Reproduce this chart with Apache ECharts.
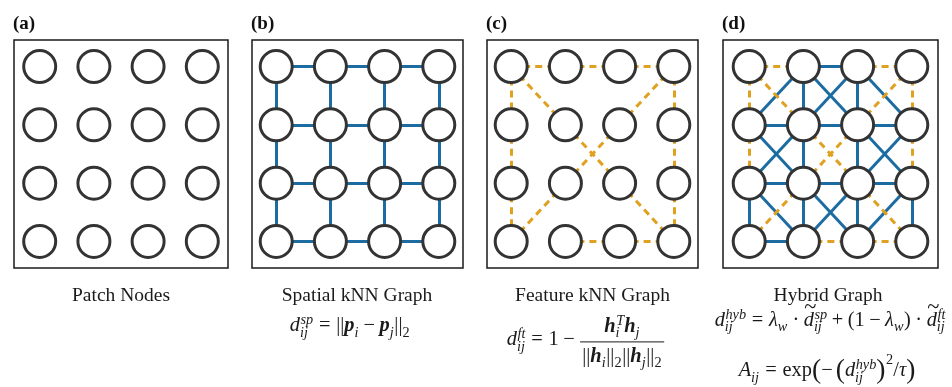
<!DOCTYPE html>
<html><head><meta charset="utf-8">
<script src="https://cdn.jsdelivr.net/npm/echarts@6/dist/echarts.min.js"></script>
<style>html,body{margin:0;padding:0;background:#fff}#chart{width:952px;height:387px}</style>
</head><body><div id="chart"></div>
<script>
// ---------------- data ----------------
const gridRows = [0, 1, 2, 3];
const gridCols = [0, 1, 2, 3];
const panelLabels = ['(a)', '(b)', '(c)', '(d)'];
const panelTitles = ['Patch Nodes', 'Spatial kNN Graph', 'Feature kNN Graph', 'Hybrid Graph'];
// edges: [row1, col1, row2, col2]
const spatialEdges = [
  [0,0,0,1],[0,1,0,2],[0,2,0,3],[1,0,1,1],[1,1,1,2],[1,2,1,3],
  [2,0,2,1],[2,1,2,2],[2,2,2,3],[3,0,3,1],[3,1,3,2],[3,2,3,3],
  [0,0,1,0],[1,0,2,0],[2,0,3,0],[0,1,1,1],[1,1,2,1],[2,1,3,1],
  [0,2,1,2],[1,2,2,2],[2,2,3,2],[0,3,1,3],[1,3,2,3],[2,3,3,3]
];
const featureEdges = [
  [0,0,0,1],[0,1,0,2],[0,2,0,3],
  [0,0,1,0],[1,0,2,0],[2,0,3,0],
  [0,3,1,3],[1,3,2,3],[2,3,3,3],
  [3,1,3,2],[3,2,3,3],
  [0,0,1,1],[1,1,2,2],[2,2,3,3],
  [0,3,1,2],[1,2,2,1],[2,1,3,0]
];
const hybridSpatialEdges = [
  [0,1,0,2],[1,0,1,1],[1,1,1,2],[1,2,1,3],[2,0,2,1],[2,1,2,2],[2,2,2,3],[3,0,3,1],
  [0,1,1,1],[0,2,1,2],[1,1,2,1],[1,2,2,2],[2,0,3,0],[2,1,3,1],[2,2,3,2],[2,3,3,3],
  [0,1,1,0],[0,1,1,2],[0,2,1,1],[0,2,1,3],[1,0,2,1],[1,1,2,0],[1,2,2,3],[1,3,2,2],
  [2,0,3,1],[2,1,3,2],[2,2,3,1],[2,3,3,2]
];
const hybridFeatureEdges = [
  [0,0,0,1],[0,2,0,3],[0,0,1,0],[1,0,2,0],[0,3,1,3],[1,3,2,3],[3,1,3,2],[3,2,3,3],
  [0,0,1,1],[1,1,2,2],[2,2,3,3],[0,3,1,2],[1,2,2,1],[2,1,3,0]
];
const panelSpatial = [[], spatialEdges, [], hybridSpatialEdges];
const panelFeature = [[], [], featureEdges, hybridFeatureEdges];

// ---------------- layout / style ----------------
const BLUE = '#1c6ca1', ORANGE = '#e0a020', NODE = '#333333';
const panels = [{left:14,width:214},{left:252,width:211},{left:487,width:211},{left:723,width:215}];
const TOP = 40, HEIGHT = 228, SPX = 54.2, SPY = 58.3;
const FF = '"Liberation Serif", "DejaVu Serif", serif';

const chart = echarts.init(document.getElementById('chart'), null, {renderer: 'canvas'});

const grids = [], xAxes = [], yAxes = [], series = [];
panels.forEach((p, i) => {
  grids.push({left: p.left, top: TOP, width: p.width, height: HEIGHT, show: true,
    borderColor: '#1a1a1a', borderWidth: 1.5, backgroundColor: 'transparent'});
  const hx = p.width / 2 / SPX, hy = HEIGHT / 2 / SPY;
  xAxes.push({gridIndex: i, type: 'value', min: 1.5 - hx, max: 1.5 + hx, show: false});
  yAxes.push({gridIndex: i, type: 'value', inverse: true, min: 1.5 - hy, max: 1.5 + hy, show: false});
  const toLines = edges => edges.map(e => ({coords: [[e[1], e[0]], [e[3], e[2]]]}));
  if (panelSpatial[i].length) series.push({
    type: 'lines', coordinateSystem: 'cartesian2d', xAxisIndex: i, yAxisIndex: i, z: 2, silent: true,
    data: toLines(panelSpatial[i]), lineStyle: {color: BLUE, width: 3, opacity: 1, type: 'solid'}
  });
  if (panelFeature[i].length) series.push({
    type: 'lines', coordinateSystem: 'cartesian2d', xAxisIndex: i, yAxisIndex: i, z: 3, silent: true,
    data: toLines(panelFeature[i]), lineStyle: {color: ORANGE, width: 3, opacity: 1, type: [7, 5]}
  });
  series.push({
    type: 'scatter', xAxisIndex: i, yAxisIndex: i, z: 5, silent: true, symbol: 'circle', symbolSize: 32,
    itemStyle: {color: '#fff', borderColor: NODE, borderWidth: 3, opacity: 1},
    data: gridRows.flatMap(r => gridCols.map(c => [c, r]))
  });
});

// ---------------- mini math text layout ----------------
const mctx = document.createElement('canvas').getContext('2d');
function fstr(st, s) { return (st.includes('i') ? 'italic ' : '') + (st.includes('b') ? 'bold ' : '') + s + 'px ' + FF; }
function mw(t, st, s) { mctx.font = fstr(st, s); return mctx.measureText(t).width; }
const SUPS = 0.7, SUPDY = -0.38, SUBDY = 0.23;

function width(tokens, S) {
  let w = 0;
  tokens.forEach(tk => {
    const k = tk[0];
    if (k === 't') w += mw(tk[1], tk[2], S * (tk[3] || 1));
    else if (k === 'sp') w += tk[1] * S;
    else if (k === 'ss') w += Math.max(mw(tk[1], tk[3] || 'i', S * SUPS), mw(tk[2], tk[4] || tk[3] || 'i', S * SUPS)) + 0.03 * S;
    else if (k === 'dt') w += mw('d', 'i', S);
    else if (k === 'frac') w += Math.max(width(tk[1], S), width(tk[2], S)) + 0.3 * S;
  });
  return w;
}
function txt(out, t, st, s, x, B) {
  out.push({type: 'text', x: x, y: B - 0.3375 * s, silent: true,
    style: {text: t, fontSize: s, fontFamily: FF, fontStyle: st.includes('i') ? 'italic' : 'normal',
      fontWeight: st.includes('b') ? 'bold' : 'normal', fill: '#1a1a1a', align: 'left', verticalAlign: 'middle', lineHeight: s}});
}
function render(tokens, x, B, S, out) {
  tokens.forEach(tk => {
    const k = tk[0];
    if (k === 't') {
      const s = S * (tk[3] || 1);
      txt(out, tk[1], tk[2], s, x, B + (tk[4] || 0) * S);
      x += mw(tk[1], tk[2], s);
    } else if (k === 'sp') x += tk[1] * S;
    else if (k === 'ss') {
      const s = S * SUPS, st1 = tk[3] || 'i', st2 = tk[4] || st1;
      const raise = tk[5] || 0;
      if (tk[1]) txt(out, tk[1], st1, s, x + 0.03 * S, B + (SUPDY - raise) * S);
      if (tk[2]) txt(out, tk[2], st2, s, x, B + SUBDY * S);
      x += Math.max(mw(tk[1], st1, s), mw(tk[2], st2, s)) + 0.03 * S;
    } else if (k === 'dt') {
      const dw = mw('d', 'i', S);
      txt(out, 'd', 'i', S, x, B);
      const tw = mw('~', 'n', S * 1.1);
      txt(out, '~', 'n', S * 1.1, x + dw / 2 - tw / 2 + 0.08 * S, B - 0.6 * S);
      x += dw;
    } else if (k === 'frac') {
      const wn = width(tk[1], S), wd = width(tk[2], S), W = Math.max(wn, wd) + 0.3 * S;
      const bar = B - 0.25 * S;
      render(tk[1], x + (W - wn) / 2, bar - 0.4 * S, S, out);
      render(tk[2], x + (W - wd) / 2, bar + 1.05 * S, S, out);
      out.push({type: 'line', silent: true, shape: {x1: x + 0.05 * S, y1: bar, x2: x + W - 0.05 * S, y2: bar},
        style: {stroke: '#1a1a1a', lineWidth: 1}});
      x += W;
    }
  });
  return x;
}
function formula(tokens, cx, B, S, out) { render(tokens, cx - width(tokens, S) / 2, B, S, out); }

const T = (t, st, sc, dy) => ['t', t, st || 'n', sc, dy];
const SP = e => ['sp', e];
const SS = (sup, sub, st1, st2, raise) => ['ss', sup, sub, st1, st2, raise];
const REL = t => [SP(0.28), T(t), SP(0.28)];
const BIN = t => [SP(0.22), T(t), SP(0.22)];

const fB = [T('d','i'), SS('sp','ij'), ...REL('='), T('||'), T('p','bi'), SS('','i'), ...BIN('−'),
  T('p','bi'), SS('','j'), T('||'), SS('','2','n','n')];
const fC = [T('d','i'), SS('ft','ij'), ...REL('='), T('1'), ...BIN('−'),
  ['frac',
    [T('h','bi'), SS('T','i'), T('h','bi'), SS('','j')],
    [T('||'), T('h','bi'), SS('','i'), T('||'), SS('','2','n','n'), T('||'), T('h','bi'), SS('','j'), T('||'), SS('','2','n','n')]]];
const fD1 = [T('d','i'), SS('hyb','ij'), ...REL('='), T('λ','i'), SS('','w'), ...BIN('·'), ['dt'], SS('sp','ij'),
  ...BIN('+'), T('('), T('1'), ...BIN('−'), T('λ','i'), SS('','w'), T(')'), ...BIN('·'), ['dt'], SS('ft','ij')];
const fD2 = [T('A','i'), SS('','ij'), ...REL('='), T('exp'), T('(', 'n', 1.35, 0.08), T('−'), SP(0.15),
  T('(', 'n', 1.35, 0.08), T('d','i'), SS('hyb','ij'), T(')', 'n', 1.35, 0.08), SS('2','','n','n',0.25),
  T('/'), T('τ','i'), T(')', 'n', 1.35, 0.08)];

const graphics = [];
const titleX = [121, 357, 592.5, 828];
panels.forEach((p, i) => {
  graphics.push({type: 'text', x: p.left - 1, y: 24, silent: true,
    style: {text: panelLabels[i], fontSize: 19, fontFamily: FF, fontWeight: 'bold', fill: '#111', align: 'left', verticalAlign: 'middle'}});
  graphics.push({type: 'text', x: titleX[i], y: 302.5 - 0.3375 * 19.5, silent: true,
    style: {text: panelTitles[i], fontSize: 19.5, fontFamily: FF, fill: '#1a1a1a', align: 'center', verticalAlign: 'middle', lineHeight: 19.5}});
});
formula(fB, 350, 333, 20.4, graphics);
formula(fC, 586, 347, 20.4, graphics);
formula(fD1, 830, 327.5, 20.4, graphics);
formula(fD2, 827, 378, 20.4, graphics);

chart.setOption({
  animation: false,
  grid: grids, xAxis: xAxes, yAxis: yAxes, series: series,
  graphic: {elements: graphics}
});
</script>
</body></html>
